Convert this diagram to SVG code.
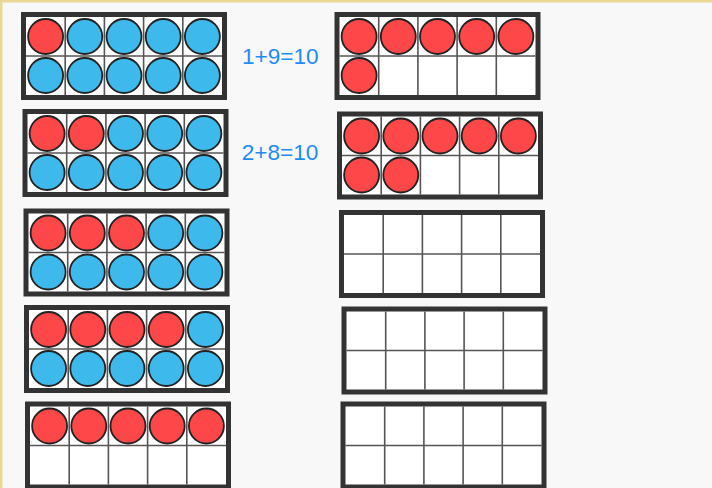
<svg xmlns="http://www.w3.org/2000/svg" xmlns:xlink="http://www.w3.org/1999/xlink" width="712" height="488" viewBox="0 0 712 488">
<style>
.r{fill:#fe4749;stroke:#222;stroke-width:1.8}
.b{fill:#3db9eb;stroke:#222;stroke-width:1.8}
.eq{font-family:"Liberation Sans",Arial,sans-serif;font-size:22.6px;fill:#1f8cf5;text-anchor:middle}
.grid{stroke:#555;stroke-width:1.6;fill:none}
</style>
<defs>
<g id="frame">
<rect x="2.5" y="2.5" width="201" height="83" fill="#fff" stroke="#333" stroke-width="5"/>
<path class="grid" d="M44.2 5V83M83.4 5V83M122.6 5V83M161.8 5V83M5 44H201"/>
</g>
</defs>
<rect width="712" height="488" fill="#f8f8f8"/>
<rect width="712" height="2.5" fill="#e9d898"/>
<rect width="2.5" height="488" fill="#e9d898"/>

<g id="frame-l1" transform="translate(21,12)">
<use xlink:href="#frame"/>
<circle class="r" cx="24.6" cy="24.5" r="17.5"/><circle class="b" cx="63.8" cy="24.5" r="17.5"/><circle class="b" cx="103" cy="24.5" r="17.5"/><circle class="b" cx="142.2" cy="24.5" r="17.5"/><circle class="b" cx="181.4" cy="24.5" r="17.5"/>
<circle class="b" cx="24.6" cy="63.5" r="17.5"/><circle class="b" cx="63.8" cy="63.5" r="17.5"/><circle class="b" cx="103" cy="63.5" r="17.5"/><circle class="b" cx="142.2" cy="63.5" r="17.5"/><circle class="b" cx="181.4" cy="63.5" r="17.5"/>
</g>
<g id="label-1"><text class="eq" x="280.3" y="63.5">1+9=10</text></g>
<g id="frame-r1" transform="translate(334.5,12)">
<use xlink:href="#frame"/>
<circle class="r" cx="24.6" cy="24.5" r="17.5"/><circle class="r" cx="63.8" cy="24.5" r="17.5"/><circle class="r" cx="103" cy="24.5" r="17.5"/><circle class="r" cx="142.2" cy="24.5" r="17.5"/><circle class="r" cx="181.4" cy="24.5" r="17.5"/>
<circle class="r" cx="24.6" cy="63.5" r="17.5"/>
</g>

<g id="frame-l2" transform="translate(22.5,109)">
<use xlink:href="#frame"/>
<circle class="r" cx="24.6" cy="24.5" r="17.5"/><circle class="r" cx="63.8" cy="24.5" r="17.5"/><circle class="b" cx="103" cy="24.5" r="17.5"/><circle class="b" cx="142.2" cy="24.5" r="17.5"/><circle class="b" cx="181.4" cy="24.5" r="17.5"/>
<circle class="b" cx="24.6" cy="63.5" r="17.5"/><circle class="b" cx="63.8" cy="63.5" r="17.5"/><circle class="b" cx="103" cy="63.5" r="17.5"/><circle class="b" cx="142.2" cy="63.5" r="17.5"/><circle class="b" cx="181.4" cy="63.5" r="17.5"/>
</g>
<g id="label-2"><text class="eq" x="280" y="159.5">2+8=10</text></g>
<g id="frame-r2" transform="translate(337,111.5)">
<use xlink:href="#frame"/>
<circle class="r" cx="24.6" cy="24.5" r="17.5"/><circle class="r" cx="63.8" cy="24.5" r="17.5"/><circle class="r" cx="103" cy="24.5" r="17.5"/><circle class="r" cx="142.2" cy="24.5" r="17.5"/><circle class="r" cx="181.4" cy="24.5" r="17.5"/>
<circle class="r" cx="24.6" cy="63.5" r="17.5"/><circle class="r" cx="63.8" cy="63.5" r="17.5"/>
</g>

<g id="frame-l3" transform="translate(23.5,208.5)">
<use xlink:href="#frame"/>
<circle class="r" cx="24.6" cy="24.5" r="17.5"/><circle class="r" cx="63.8" cy="24.5" r="17.5"/><circle class="r" cx="103" cy="24.5" r="17.5"/><circle class="b" cx="142.2" cy="24.5" r="17.5"/><circle class="b" cx="181.4" cy="24.5" r="17.5"/>
<circle class="b" cx="24.6" cy="63.5" r="17.5"/><circle class="b" cx="63.8" cy="63.5" r="17.5"/><circle class="b" cx="103" cy="63.5" r="17.5"/><circle class="b" cx="142.2" cy="63.5" r="17.5"/><circle class="b" cx="181.4" cy="63.5" r="17.5"/>
</g>
<g id="frame-r3" transform="translate(339,210)">
<use xlink:href="#frame"/>
</g>

<g id="frame-l4" transform="translate(24,305)">
<use xlink:href="#frame"/>
<circle class="r" cx="24.6" cy="24.5" r="17.5"/><circle class="r" cx="63.8" cy="24.5" r="17.5"/><circle class="r" cx="103" cy="24.5" r="17.5"/><circle class="r" cx="142.2" cy="24.5" r="17.5"/><circle class="b" cx="181.4" cy="24.5" r="17.5"/>
<circle class="b" cx="24.6" cy="63.5" r="17.5"/><circle class="b" cx="63.8" cy="63.5" r="17.5"/><circle class="b" cx="103" cy="63.5" r="17.5"/><circle class="b" cx="142.2" cy="63.5" r="17.5"/><circle class="b" cx="181.4" cy="63.5" r="17.5"/>
</g>
<g id="frame-r4" transform="translate(341.5,306.5)">
<use xlink:href="#frame"/>
</g>

<g id="frame-l5" transform="translate(25,401.5)">
<use xlink:href="#frame"/>
<circle class="r" cx="24.6" cy="24.5" r="17.5"/><circle class="r" cx="63.8" cy="24.5" r="17.5"/><circle class="r" cx="103" cy="24.5" r="17.5"/><circle class="r" cx="142.2" cy="24.5" r="17.5"/><circle class="r" cx="181.4" cy="24.5" r="17.5"/>
</g>
<g id="frame-r5" transform="translate(340.5,401.5)">
<use xlink:href="#frame"/>
</g>
</svg>
